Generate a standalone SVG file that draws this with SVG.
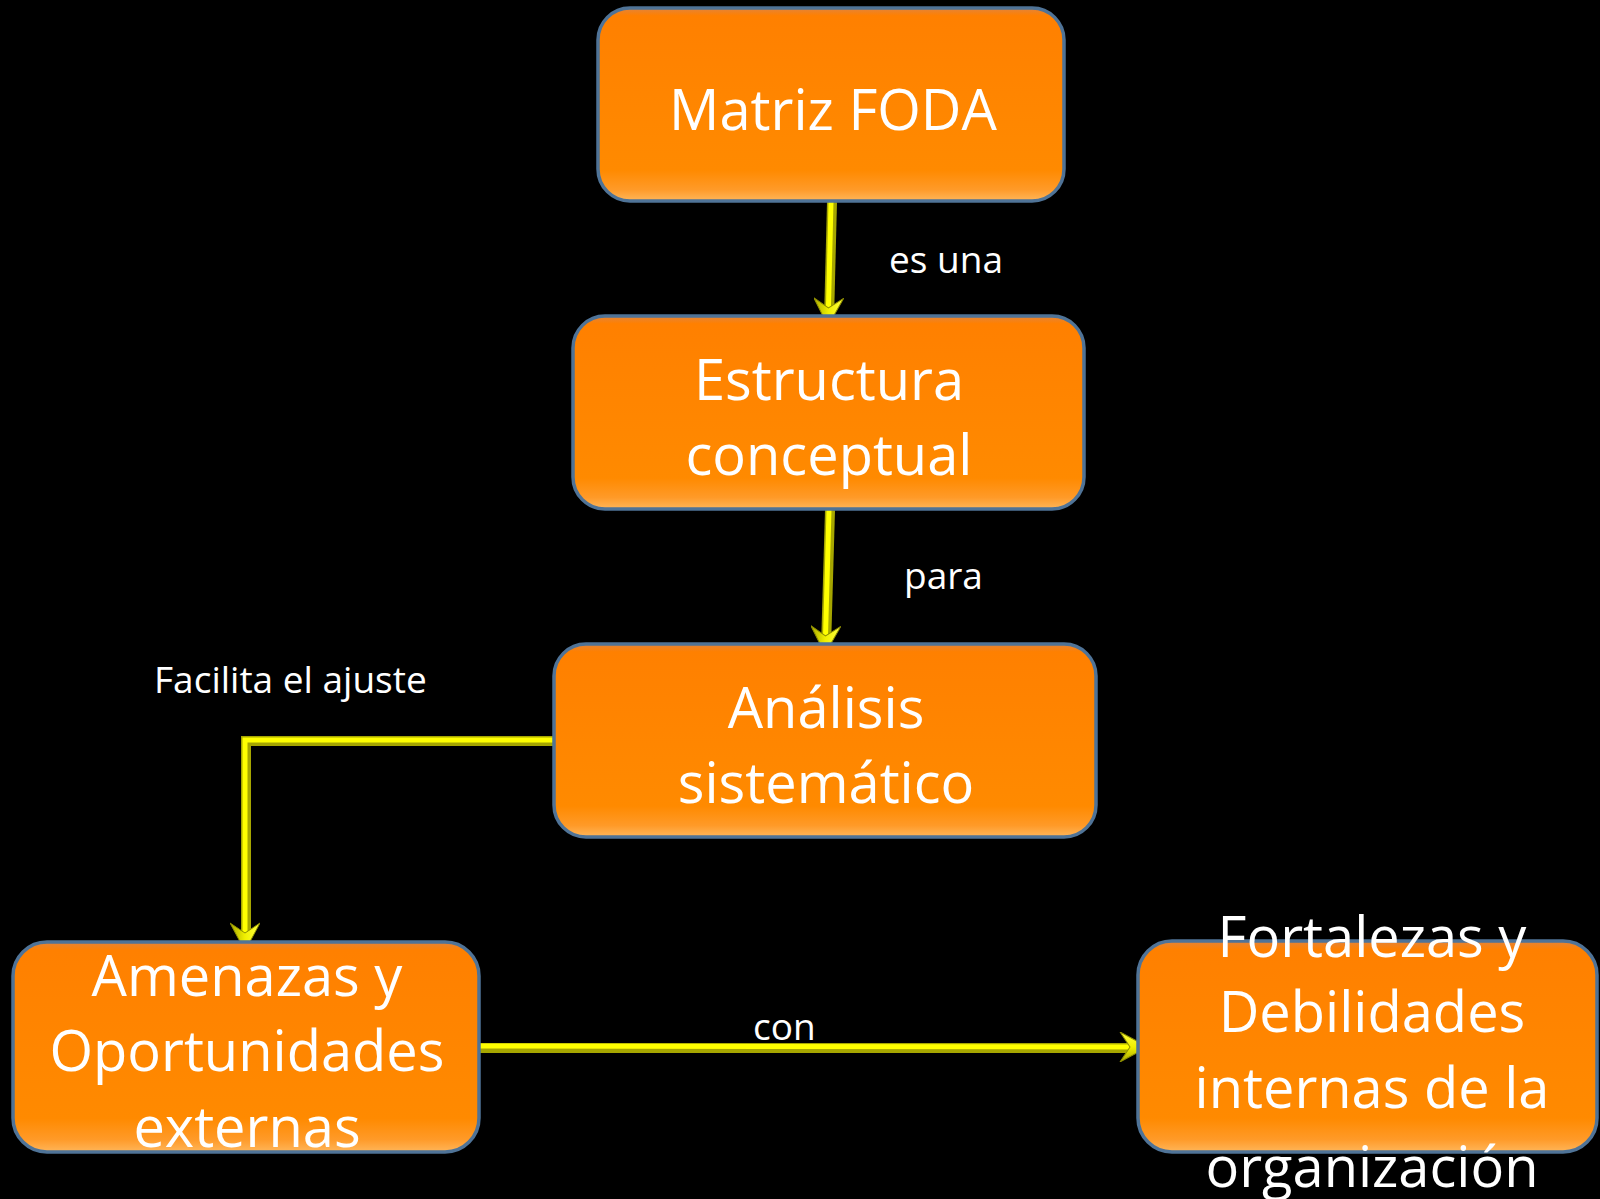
<svg xmlns="http://www.w3.org/2000/svg" width="1600" height="1199" viewBox="0 0 1600 1199">
<defs>
  <linearGradient id="boxFill" x1="0" y1="0" x2="0" y2="1">
    <stop offset="0" stop-color="#E3843A"/>
    <stop offset="0.04" stop-color="#FF8000"/>
    <stop offset="0.84" stop-color="#FF8A00"/>
    <stop offset="0.94" stop-color="#FF9A28"/>
    <stop offset="1" stop-color="#FFB65A"/>
  </linearGradient>
  <linearGradient id="headFill" x1="0" y1="0" x2="0" y2="1">
    <stop offset="0" stop-color="#FFFF40"/>
    <stop offset="0.5" stop-color="#F0F000"/>
    <stop offset="1" stop-color="#A8A800"/>
  </linearGradient>
  <marker id="arrow" markerUnits="userSpaceOnUse" markerWidth="30" markerHeight="30" viewBox="0 0 28 30" refX="28" refY="15" orient="auto">
    <path d="M28,15 L0,0 L10,15 L0,30 Z" fill="url(#headFill)" stroke="#8E8E00" stroke-width="1"/>
  </marker>
</defs>
<style>
  .box { fill: url(#boxFill); stroke: #4F7397; stroke-width: 3.5; }
  .big { font-family: "Open Sans", "Noto Sans", sans-serif; font-size: 56px; fill: #FFFFFF; text-anchor: middle; }
  .lbl { font-family: "Open Sans", "Noto Sans", sans-serif; font-size: 37px; fill: #FFFFFF; }
  .shaftDark { fill: none; stroke: #A6A600; stroke-width: 10; stroke-linejoin: miter; }
  .shaftLight { fill: none; stroke: #FFFF00; stroke-width: 5; stroke-linejoin: miter; }
</style>
<rect x="0" y="0" width="1600" height="1199" fill="#000000"/>

<g id="connectors">
  <g id="c1">
    <path class="shaftDark" d="M832,202 L829,320"/>
    <path class="shaftLight" d="M831,202 L828,326" marker-end="url(#arrow)"/>
  </g>
  <g id="c2">
    <path class="shaftDark" d="M830,510 L826,648"/>
    <path class="shaftLight" d="M829,510 L825,654" marker-end="url(#arrow)"/>
  </g>
  <g id="c3">
    <path class="shaftDark" d="M553,741 L246,741 L246,944"/>
    <path class="shaftLight" d="M553,740 L245,740 L245,951" marker-end="url(#arrow)"/>
  </g>
  <g id="c4">
    <path class="shaftDark" d="M480,1048 L1142,1048"/>
    <path class="shaftLight" d="M480,1046 L1148,1047" marker-end="url(#arrow)"/>
  </g>
  <text class="lbl" x="889" y="273">es una</text>
  <text class="lbl" x="904" y="589">para</text>
  <text class="lbl" x="154" y="693">Facilita el ajuste</text>
  <text class="lbl" x="753" y="1040">con</text>
</g>

<g id="node-matriz">
  <rect class="box" x="598" y="8" width="466" height="193" rx="32" ry="32"/>
  <text class="big" x="833" y="130">Matriz FODA</text>
</g>

<g id="node-estructura">
  <rect class="box" x="573" y="316" width="511" height="193" rx="32" ry="32"/>
  <text class="big" x="829" y="400">Estructura</text>
  <text class="big" x="829" y="475">conceptual</text>
</g>

<g id="node-analisis">
  <rect class="box" x="554" y="644" width="542" height="193" rx="32" ry="32"/>
  <text class="big" x="826" y="728">Análisis</text>
  <text class="big" x="826" y="803">sistemático</text>
</g>

<g id="node-amenazas">
  <rect class="box" x="13" y="942" width="466" height="210" rx="34" ry="34"/>
  <text class="big" x="247" y="996">Amenazas y</text>
  <text class="big" x="247" y="1071">Oportunidades</text>
  <text class="big" x="247" y="1147">externas</text>
</g>

<g id="node-fortalezas">
  <rect class="box" x="1138" y="941" width="459" height="211" rx="34" ry="34"/>
  <text class="big" x="1372" y="957">Fortalezas y</text>
  <text class="big" x="1372" y="1032">Debilidades</text>
  <text class="big" x="1372" y="1108">internas de la</text>
  <text class="big" x="1372" y="1187">organización</text>
</g>
</svg>
